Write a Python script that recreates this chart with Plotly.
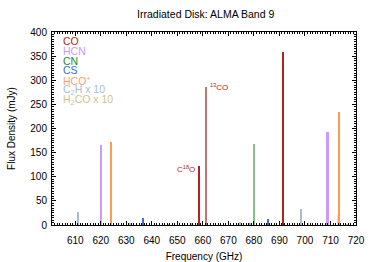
import plotly.graph_objects as go

# ---- data (frequency GHz, flux mJy) ----
co_freq = [691.47]
co_flux = [359]
c18o_freq = [658.55]
c18o_flux = [123]
co13_freq = [661.07]
co13_flux = [287]
hcn_freq = [620.30, 708.88]
hcn_flux = [165, 193]
cn_freq = [678.5, 680.0, 680.1]
cn_flux = [3, 168, 147]
cs_freq = [636.53, 685.44]
cs_flux = [14, 12.5]
hcop_freq = [624.2, 713.34]
hcop_flux = [171, 234]
hcop_weak_freq = [713.1]
hcop_weak_flux = [20]
c2h_freq = [611.27, 698.4]
c2h_flux = [26, 33]
h2co_freq = [631.7, 647.0, 655.9, 674.6, 701.2, 716.5]
h2co_flux = [4, 2, 3, 6, 5, 2]

legend_names = ["CO", "HCN", "CN", "CS", "HCO<sup>+</sup>", "C<sub>2</sub>H x 10", "H<sub>2</sub>CO x 10"]
legend_colors = ["#b22222", "#cc99ff", "#228b22", "#4169e1", "#ffa070", "#a8bcd8", "#ccc48c"]

x_ticks = [610, 620, 630, 640, 650, 660, 670, 680, 690, 700, 710, 720]
y_ticks = [0, 50, 100, 150, 200, 250, 300, 350, 400]

FONT = "Liberation Sans, Arial, Helvetica, sans-serif"

fig = go.Figure()

def add(freq, flux, color, width=0.6, opacity=1.0):
    fig.add_trace(go.Bar(x=freq, y=flux, width=[width] * len(freq),
                         marker=dict(color=color, line=dict(width=0)),
                         opacity=opacity, showlegend=False, hoverinfo="x+y"))

add(h2co_freq, h2co_flux, "#ccc48c")
add(c2h_freq, c2h_flux, "#a8bcd8")
add(hcop_weak_freq, hcop_weak_flux, "#ffd8b8")
add(cs_freq, cs_flux, "#4169e1")
add(hcn_freq, hcn_flux, "#cc99ff", width=0.7)
add(hcop_freq, hcop_flux, "#ff9a50")
add(cn_freq, cn_flux, "#228b22", width=0.6, opacity=0.55)
add(co13_freq, co13_flux, "#c47272", width=0.8)
add(c18o_freq, c18o_flux, "#b22222")
add(co_freq, co_flux, "#b22222")

# line labels
fig.add_annotation(x=co13_freq[0] + 0.9, y=co13_flux[0], text="<sup>13</sup>CO",
                   showarrow=False, xanchor="left", yanchor="middle",
                   font=dict(family=FONT, size=8, color="#b22222"))
fig.add_annotation(x=c18o_freq[0] - 0.7, y=c18o_flux[0] - 6, text="C<sup>18</sup>O",
                   showarrow=False, xanchor="right", yanchor="middle",
                   font=dict(family=FONT, size=8, color="#b22222"))

# text legend
for i, (name, col) in enumerate(zip(legend_names, legend_colors)):
    fig.add_annotation(xref="paper", yref="paper", x=0.03, y=0.953 - i * 0.0508,
                       text=name, showarrow=False, xanchor="left", yanchor="middle",
                       font=dict(family=FONT, size=10.5, color=col))

axis_common = dict(showline=True, linecolor="black", linewidth=1, mirror="ticks",
                   ticks="inside", ticklen=4, tickcolor="black", showgrid=False,
                   zeroline=False, automargin=False,
                   tickfont=dict(family=FONT, size=10, color="black"))

fig.update_layout(
    width=374, height=262,
    margin=dict(l=52, r=18, t=32, b=37),
    paper_bgcolor="white", plot_bgcolor="white",
    barmode="overlay", bargap=0,
    title=dict(text="Irradiated Disk: ALMA Band 9", x=0.55, xanchor="center",
               y=0.945, yanchor="middle",
               font=dict(family=FONT, size=10.5, color="black")),
    xaxis=dict(range=[600.9, 720], tickvals=x_ticks, ticklabelstandoff=6,
               title=dict(text="Frequency (GHz)", standoff=8,
                          font=dict(family=FONT, size=10, color="black")),
               minor=dict(dtick=1, ticks="inside", ticklen=2, tickcolor="black"),
               **axis_common),
    yaxis=dict(range=[0, 400], tickvals=y_ticks, ticklabelstandoff=2,
               title=dict(text="Flux Density (mJy)", standoff=12,
                          font=dict(family=FONT, size=10, color="black")),
               minor=dict(dtick=5, ticks="inside", ticklen=2, tickcolor="black"),
               **axis_common),
)

fig.write_html("out.html", config={"displayModeBar": False},
               post_script="document.body.style.margin='0';")
